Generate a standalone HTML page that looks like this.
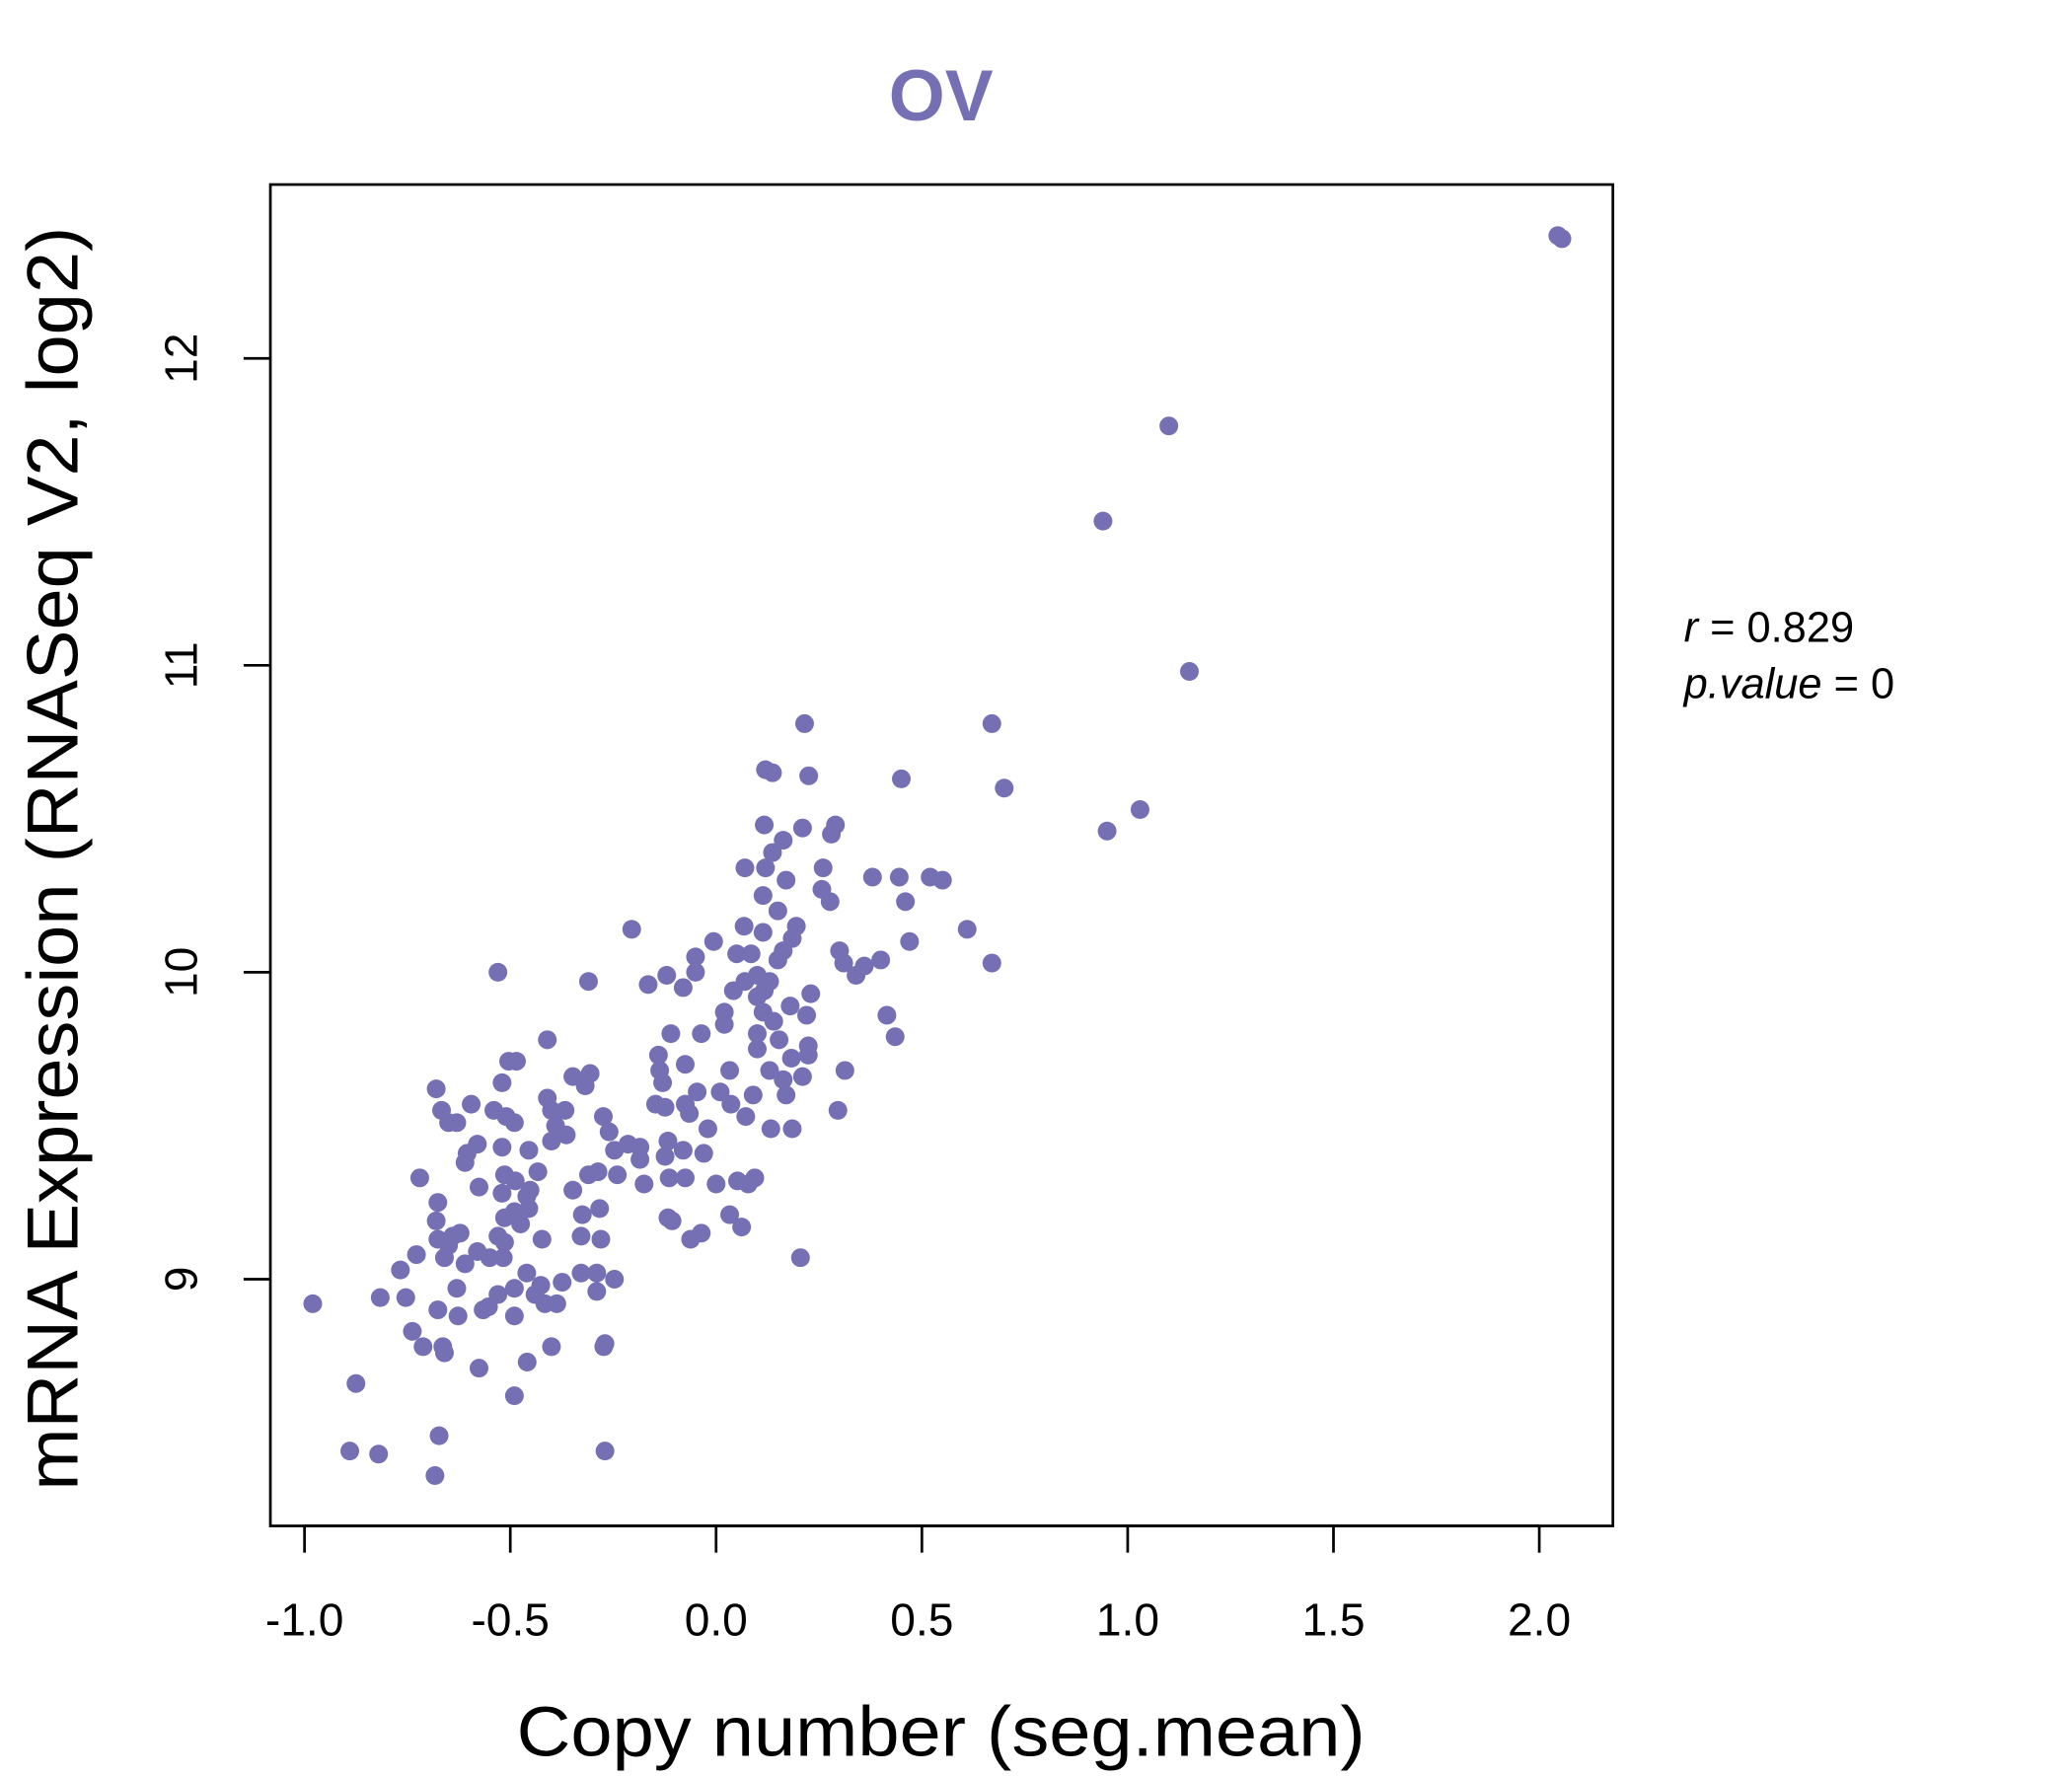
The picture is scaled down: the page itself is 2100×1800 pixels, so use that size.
<!DOCTYPE html>
<html><head><meta charset="utf-8"><style>
html,body{margin:0;padding:0;background:#fff;}
svg{display:block;font-family:"Liberation Sans",sans-serif;}
</style></head><body>
<svg id="chart" width="2100" height="1800" viewBox="0 0 1548 1328" preserveAspectRatio="none" xmlns="http://www.w3.org/2000/svg">
<rect width="1548" height="1328" fill="#fff"/>
<text x="703" y="90" text-anchor="middle" font-size="54" font-weight="bold" fill="#7570b3">OV</text>
<rect x="202" y="138" width="1003" height="1003" fill="none" stroke="#000" stroke-width="2"/>
<g id="xaxis"></g>
<g id="yaxis"></g>
<g id="points"></g>
<text x="703" y="1313" text-anchor="middle" font-size="53" textLength="634" lengthAdjust="spacingAndGlyphs">Copy number (seg.mean)</text>
<text transform="translate(58,642) rotate(-90)" text-anchor="middle" font-size="54" textLength="945" lengthAdjust="spacingAndGlyphs">mRNA Expression (RNASeq V2, log2)</text>
<text x="1258" y="480" font-size="32"><tspan font-style="italic">r</tspan> = 0.829</text>
<text x="1258" y="522" font-size="32"><tspan font-style="italic">p.value</tspan> = 0</text>
</svg>
<script>
const xTicks = [-1.0, -0.5, 0.0, 0.5, 1.0, 1.5, 2.0];
const xTickLabels = ["-1.0", "-0.5", "0.0", "0.5", "1.0", "1.5", "2.0"];
const yTicks = [9, 10, 11, 12];
const yTickLabels = ["9", "10", "11", "12"];
const copyNumber = [2.045,2.055,1.10,0.94,1.15,0.67,0.215,0.70,1.03,0.95,0.45,0.12,0.137,0.225,0.117,0.21,0.29,0.28,0.163,0.137,0.07,0.12,0.26,0.38,0.445,0.52,0.55,0.17,0.257,0.277,0.114,0.46,0.15,-0.205,0.068,0.195,0.61,0.114,0.185,0.47,-0.006,0.163,0.30,0.05,-0.05,0.085,0.15,0.40,0.31,0.67,0.36,-0.53,-0.05,-0.31,0.34,-0.12,0.10,0.07,0.13,-0.165,-0.08,0.042,0.117,0.23,0.10,0.18,0.02,0.114,0.22,0.415,0.14,0.02,0.10,-0.11,-0.036,0.435,-0.41,0.153,0.224,0.10,-0.14,-0.504,-0.485,0.183,0.224,-0.075,0.033,0.313,-0.137,0.13,-0.348,-0.306,0.21,0.163,-0.13,-0.52,-0.318,-0.68,-0.046,0.01,0.17,0.09,-0.41,-0.595,-0.147,-0.075,0.036,-0.367,-0.124,-0.40,-0.667,-0.54,-0.065,0.296,0.072,-0.51,-0.274,-0.65,-0.63,-0.49,-0.39,-0.02,0.133,0.185,-0.26,-0.364,-0.40,-0.58,-0.52,-0.117,-0.214,-0.455,-0.185,-0.08,-0.247,-0.03,-0.605,-0.124,-0.61,-0.185,-0.114,-0.72,0.094,-0.075,-0.433,-0.287,-0.31,-0.24,-0.514,0.052,-0.488,-0.175,0,0.078,-0.576,-0.452,-0.348,-0.52,-0.46,-0.676,0.033,-0.325,-0.283,-0.455,-0.514,-0.117,-0.49,-0.68,-0.107,-0.475,0.062,-0.622,-0.036,-0.53,-0.64,-0.676,-0.062,-0.28,-0.328,-0.423,-0.514,-0.65,-0.58,-0.728,0.205,-0.55,-0.66,-0.517,-0.61,-0.767,-0.46,-0.328,-0.29,-0.247,-0.374,-0.426,-0.63,-0.49,-0.29,-0.44,-0.53,-0.754,-0.816,-0.98,-0.387,-0.416,-0.553,-0.566,-0.676,-0.49,-0.627,-0.738,-0.27,-0.273,-0.712,-0.664,-0.40,-0.66,-0.459,-0.576,-0.875,-0.49,-0.673,-0.89,-0.27,-0.82,-0.683];
const expression = [12.40,12.39,11.78,11.47,10.98,10.81,10.81,10.60,10.53,10.46,10.63,10.66,10.65,10.64,10.48,10.47,10.48,10.45,10.43,10.39,10.34,10.34,10.34,10.31,10.31,10.31,10.30,10.30,10.27,10.23,10.25,10.23,10.20,10.14,10.15,10.15,10.14,10.13,10.11,10.10,10.10,10.07,10.07,10.06,10.05,10.06,10.04,10.04,10.03,10.03,10.02,10.00,10.00,9.97,9.99,9.99,9.99,9.97,9.97,9.96,9.95,9.94,9.94,9.93,9.92,9.89,9.87,9.87,9.86,9.86,9.84,9.83,9.80,9.80,9.80,9.79,9.78,9.78,9.76,9.75,9.73,9.71,9.71,9.72,9.73,9.70,9.68,9.68,9.68,9.68,9.66,9.67,9.66,9.65,9.64,9.64,9.63,9.62,9.61,9.61,9.60,9.60,9.59,9.57,9.57,9.57,9.57,9.55,9.56,9.55,9.55,9.55,9.54,9.55,9.53,9.53,9.53,9.51,9.51,9.51,9.50,9.49,9.49,9.49,9.48,9.47,9.45,9.44,9.43,9.45,9.44,9.42,9.43,9.42,9.42,9.41,9.41,9.40,9.38,9.39,9.33,9.33,9.33,9.33,9.35,9.35,9.34,9.34,9.34,9.32,9.32,9.31,9.31,9.31,9.30,9.29,9.29,9.28,9.27,9.25,9.21,9.21,9.23,9.23,9.20,9.20,9.22,9.19,9.19,9.18,9.17,9.15,9.15,9.14,9.14,9.13,9.13,9.13,9.14,9.13,9.12,9.11,9.09,9.08,9.07,9.07,9.07,9.07,9.05,9.03,9.02,9.02,9.02,9.00,8.99,8.98,8.97,8.97,8.96,8.95,8.95,8.94,8.94,8.92,8.92,8.92,8.91,8.90,8.90,8.88,8.88,8.83,8.79,8.78,8.78,8.78,8.78,8.76,8.73,8.71,8.66,8.62,8.49,8.44,8.44,8.43,8.36];

const NS = "http://www.w3.org/2000/svg";
const xScale = v => 535 + (v - 0) * 307.5;
const yScale = v => 727 - (v - 10) * 229.5;

const xg = document.getElementById('xaxis');
const xl = document.createElementNS(NS, 'line');


xl.setAttribute('x1', xScale(xTicks[0])); xl.setAttribute('x2', xScale(xTicks[xTicks.length-1]));
xl.setAttribute('y1', 1141); xl.setAttribute('y2', 1141);
xl.setAttribute('stroke', '#000'); xl.setAttribute('stroke-width', 2);
xg.appendChild(xl);
xTicks.forEach((t, i) => {
  const ln = document.createElementNS(NS, 'line');
  
  
  ln.setAttribute('x1', xScale(t)); ln.setAttribute('x2', xScale(t));
  ln.setAttribute('y1', 1141); ln.setAttribute('y2', 1161);
  ln.setAttribute('stroke', '#000'); ln.setAttribute('stroke-width', 2);
  xg.appendChild(ln);
  const tx = document.createElementNS(NS, 'text');
  
  
  tx.setAttribute('x', xScale(t)); tx.setAttribute('y', 1223);
  tx.setAttribute('text-anchor', 'middle'); tx.setAttribute('font-size', '34');
  tx.textContent = xTickLabels[i];
  xg.appendChild(tx);
});

const yg = document.getElementById('yaxis');
yTicks.forEach((t, i) => {
  const ln = document.createElementNS(NS, 'line');
  
  
  ln.setAttribute('x1', 182); ln.setAttribute('x2', 202);
  ln.setAttribute('y1', yScale(t)); ln.setAttribute('y2', yScale(t));
  ln.setAttribute('stroke', '#000'); ln.setAttribute('stroke-width', 2);
  yg.appendChild(ln);
  const tx = document.createElementNS(NS, 'text');
  
  
  tx.setAttribute('transform', 'translate(147,' + yScale(t) + ') rotate(-90)');
  tx.setAttribute('text-anchor', 'middle'); tx.setAttribute('font-size', '34');
  tx.textContent = yTickLabels[i];
  yg.appendChild(tx);
});

const pg = document.getElementById('points');
copyNumber.forEach((x, i) => {
  const c = document.createElementNS(NS, 'circle');
  
  
  c.setAttribute('cx', xScale(x));
  c.setAttribute('cy', yScale(expression[i]));
  c.setAttribute('r', 7);
  c.setAttribute('fill', '#7570b3');
  pg.appendChild(c);
});
</script>
</body></html>
